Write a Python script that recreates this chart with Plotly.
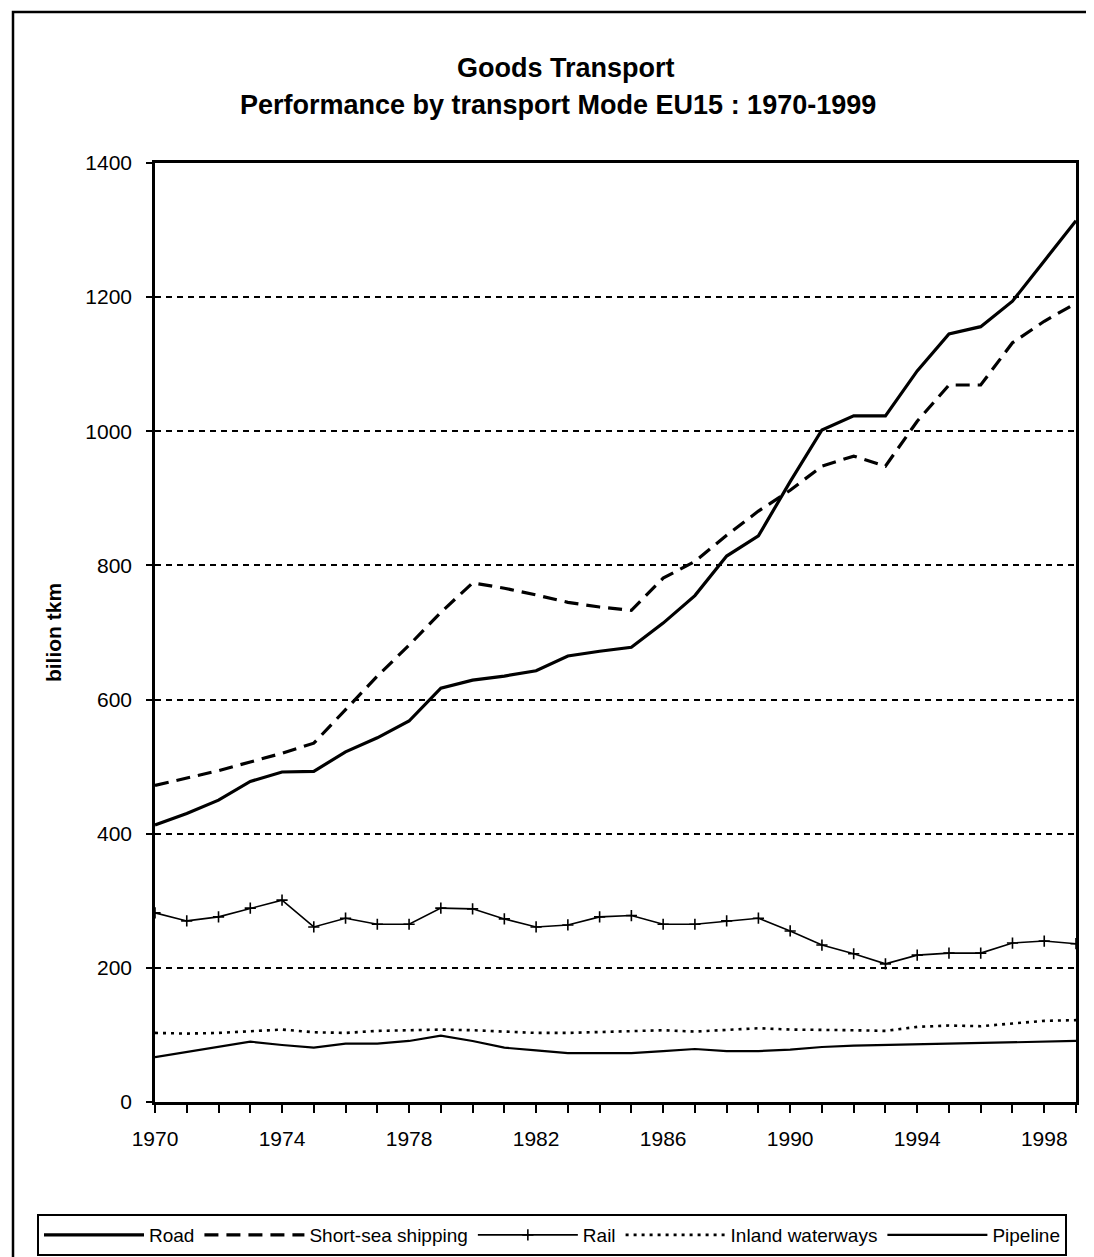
import plotly.graph_objects as go

# ---------------- data ----------------
years = list(range(1970, 2000))
road = [413, 430, 450, 478, 492, 493, 522, 543, 568, 617, 629, 635, 643, 665, 672,
        678, 714, 755, 814, 844, 925, 1002, 1023, 1023, 1090, 1145, 1156, 1194, 1254, 1314]
short_sea = [472, 483, 494, 507, 520, 535, 585, 635, 681, 730, 774, 766, 756, 745, 738,
             733, 781, 806, 845, 881, 912, 948, 963, 948, 1015, 1069, 1069, 1132, 1164, 1191]
rail = [282, 270, 276, 289, 301, 261, 274, 265, 265, 289, 288, 273, 261, 264, 276,
        278, 265, 265, 270, 274, 255, 234, 221, 206, 219, 222, 222, 237, 240, 236]
inland = [103, 102, 103, 106, 108, 104, 103, 106, 107, 108, 107, 105, 103, 103, 104,
          105, 107, 105, 108, 110, 108, 108, 107, 106, 112, 114, 113, 117, 121, 122]
pipeline = [67, 75, 83, 90, 85, 81, 87, 87, 91, 99, 91, 81, 77, 73, 73,
            73, 76, 79, 76, 76, 78, 82, 84, 85, 86, 87, 89, 90, 91, 91]
x_tick_labels = ["1970", "1974", "1978", "1982", "1986", "1990", "1994", "1998"]
y_tick_values = [0, 200, 400, 600, 800, 1000, 1200, 1400]

# ---------------- geometry ----------------
W, H = 1094, 1257
L, R, T, B = 147, 1068, 155, 1094   # plot area in pixels
pw, ph = R - L, B - T

def px(xpix):
    return (xpix - L) / pw

def py(ypix):
    return (B - ypix) / ph

FONT = "Liberation Sans, Arial, sans-serif"

fig = go.Figure()
fig.add_trace(go.Scatter(x=years, y=road, name="Road", mode="lines",
                         line=dict(color="black", width=3.2)))
fig.add_trace(go.Scatter(x=years, y=short_sea, name="Short-sea shipping", mode="lines",
                         line=dict(color="black", width=3.2, dash="14px,8px")))
fig.add_trace(go.Scatter(x=years, y=rail, name="Rail", mode="lines+markers",
                         line=dict(color="black", width=1.6),
                         marker=dict(symbol="cross-thin", size=8,
                                     line=dict(color="black", width=1.6))))
fig.add_trace(go.Scatter(x=years, y=inland, name="Inland waterways", mode="lines",
                         line=dict(color="black", width=2.6, dash="3px,5px")))
fig.add_trace(go.Scatter(x=years, y=pipeline, name="Pipeline", mode="lines",
                         line=dict(color="black", width=2.2)))

# titles
fig.add_annotation(text="<b>Goods Transport</b>", xref="paper", yref="paper",
                   x=px(558), y=py(60), xanchor="center", yanchor="middle",
                   showarrow=False, font=dict(family=FONT, size=27, color="black"))
fig.add_annotation(text="<b>Performance by transport Mode EU15 : 1970-1999</b>",
                   xref="paper", yref="paper", x=px(550), y=py(97),
                   xanchor="center", yanchor="middle", showarrow=False,
                   font=dict(family=FONT, size=27, color="black"))

# outer border of the chart
fig.add_shape(type="rect", xref="paper", yref="paper",
              x0=px(5), x1=px(1088), y0=py(1253), y1=py(4),
              line=dict(color="black", width=2.5), layer="below")

fig.update_layout(
    width=W, height=H,
    margin=dict(l=L, r=W - R, t=T, b=H - B, pad=0, autoexpand=False),
    paper_bgcolor="white", plot_bgcolor="white",
    font=dict(family=FONT, color="black"),
    showlegend=True,
    legend=dict(orientation="h", xref="paper", yref="paper",
                x=px(29), xanchor="left", y=py(1206), yanchor="top",
                bordercolor="black", borderwidth=2, bgcolor="white",
                font=dict(family=FONT, size=19, color="black"),
                itemwidth=100, tracegroupgap=0),
    xaxis=dict(range=[1970, 1999], tickmode="array",
               tickvals=[int(v) for v in x_tick_labels], ticktext=x_tick_labels,
               ticks="outside", ticklen=8, tickwidth=1.5, tickcolor="black",
               minor=dict(ticks="outside", ticklen=8, tickwidth=1.5, tickcolor="black",
                          dtick=1, showgrid=False),
               showgrid=False, zeroline=False,
               showline=True, linecolor="black", linewidth=2.5, mirror=True,
               tickfont=dict(family=FONT, size=21, color="black"), ticklabelstandoff=8),
    yaxis=dict(range=[0, 1400], tickmode="array", tickvals=y_tick_values,
               ticks="outside", ticklen=6, tickwidth=1.5, tickcolor="black",
               showgrid=True, gridcolor="black", gridwidth=2, griddash="6px,5px",
               zeroline=False,
               showline=True, linecolor="black", linewidth=2.5, mirror=True,
               tickfont=dict(family=FONT, size=21, color="black"), ticklabelstandoff=10,
               title=dict(text="<b>bilion tkm</b>", standoff=18,
                          font=dict(family=FONT, size=21, color="black"))),
)

fig.write_html("out.html")
